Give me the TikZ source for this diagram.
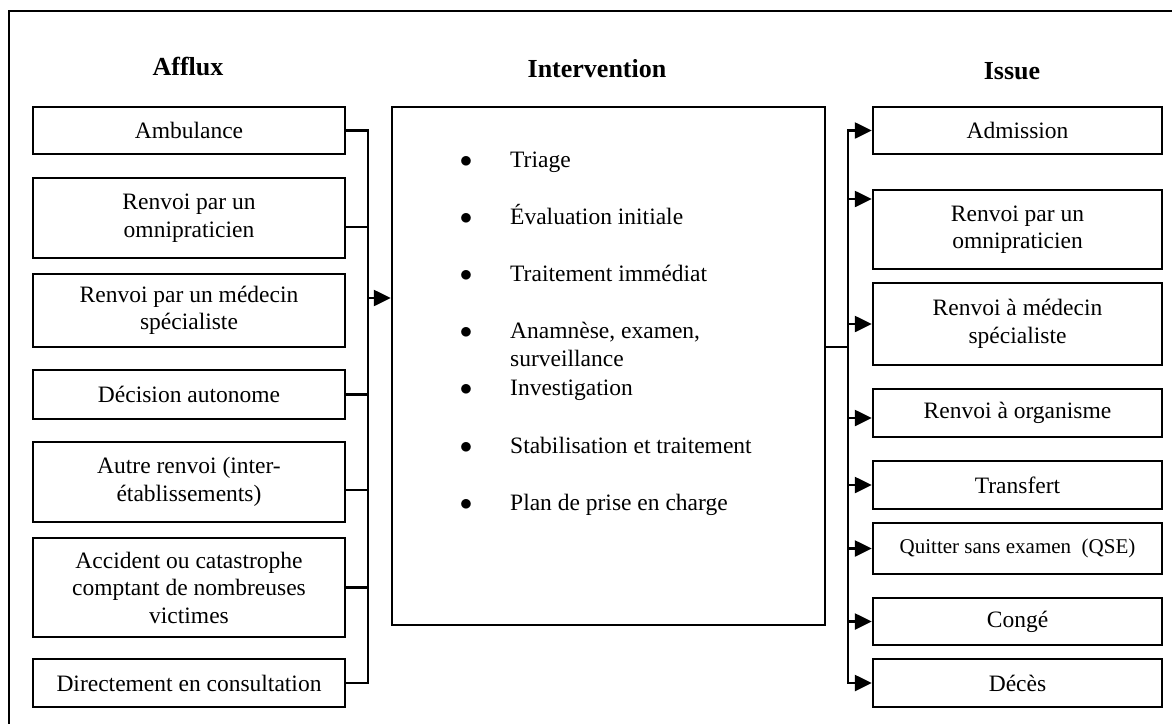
\documentclass[tikz,border=0pt]{standalone}
\usepackage{fontspec}
\setmainfont{Liberation Serif}
\usepackage{tikz}
\usetikzlibrary{arrows.meta,positioning,calc}
\tikzstyle{ib}=[rectangle,draw=black,line width=2.4pt,minimum width=312,align=center,inner sep=2pt,font=\fontsize{23.5}{27.5}\selectfont]
\tikzstyle{ob}=[rectangle,draw=black,line width=2.4pt,minimum width=289,align=center,inner sep=2pt,font=\fontsize{23.5}{27.5}\selectfont]
\tikzstyle{hd}=[anchor=base,inner sep=0pt,font=\fontsize{26}{30}\selectfont\bfseries]
\tikzstyle{bul}=[anchor=base,inner sep=0pt,font=\fontsize{23.5}{27.5}\selectfont]
\tikzstyle{itm}=[anchor=base west,inner sep=0pt,font=\fontsize{23.5}{27.5}\selectfont]
\tikzstyle{arr}=[-{Triangle[length=17pt,width=16pt]}]

\begin{document}
\begin{tikzpicture}[x=1pt,y=-1pt,line width=2.4pt]
    \useasboundingbox (0,0) rectangle (1172,723);
    \clip (0,0) rectangle (1172,723);
    \draw[line width=2.8pt] (9,11) rectangle (1190,740);

    \node (tin) [hd] at (188,75) {Afflux};
    \node (tmid) [hd] at (597,77) {Intervention};
    \node (tout) [hd] at (1012,79) {Issue};

    % afflux
    \node (amb) [ib,minimum height=47] at (189,130.5) {Ambulance};
    \node (omni) [ib,minimum height=80] at (189,218) {Renvoi par un\\omnipraticien};
    \node (spec) [ib,minimum height=73] at (189,310.5) {Renvoi par un médecin\\spécialiste};
    \node (auto) [ib,minimum height=49] at (189,394.5) {Décision autonome};
    \node (inter) [ib,minimum height=80] at (189,482) {Autre renvoi (inter-\\établissements)};
    \node (acc) [ib,minimum height=99] at (189,587.5) {Accident ou catastrophe\\comptant de nombreuses\\victimes};
    \node (dir) [ib,minimum height=48] at (189,683) {Directement en consultation};

    % intervention
    \node (cbox) [draw,line width=2.4pt,minimum width=433,minimum height=518] at (608.5,366) {};
    \node (b1) [bul] at (466,167) {$\bullet$};
    \node (i1) [itm] at (509,167) {Triage};
    \node (b2) [bul] at (466,224) {$\bullet$};
    \node (i2) [itm] at (509,224) {Évaluation initiale};
    \node (b3) [bul] at (466,281) {$\bullet$};
    \node (i3) [itm] at (509,281) {Traitement immédiat};
    \node (b4) [bul] at (466,338) {$\bullet$};
    \node (i4) [itm] at (509,338) {Anamnèse, examen,};
    \node (i4b) [itm] at (509,366) {surveillance};
    \node (b5) [bul] at (466,395) {$\bullet$};
    \node (i5) [itm] at (509,395) {Investigation};
    \node (b6) [bul] at (466,453) {$\bullet$};
    \node (i6) [itm] at (509,453) {Stabilisation et traitement};
    \node (b7) [bul] at (466,510) {$\bullet$};
    \node (i7) [itm] at (509,510) {Plan de prise en charge};

    % issue
    \node (adm) [ob,minimum height=47] at (1017.5,130.5) {Admission};
    \node (omni2) [ob,minimum height=79] at (1017.5,229.5) {Renvoi par un\\omnipraticien};
    \node (spec2) [ob,minimum height=82] at (1017.5,324) {Renvoi à médecin\\spécialiste};
    \node (org) [ob,minimum height=48] at (1017.5,413) {Renvoi à organisme};
    \node (trans) [ob,minimum height=48] at (1017.5,485) {Transfert};
    \node (qse) [ob,minimum height=51,font=\fontsize{21}{25}\selectfont] at (1017.5,548.5) {Quitter sans examen\ \ (QSE)};
    \node (conge) [ob,minimum height=47] at (1017.5,621.5) {Congé};
    \node (deces) [ob,minimum height=48] at (1017.5,683) {Décès};

    % connectors in
    \coordinate (busL) at (368,131);
    \coordinate (inL) at (368,298);
    \draw (amb.east) -- (amb.east -| busL) -- (dir.east -| busL) -- (dir.east);
    \draw ([yshift=-9pt]omni.east) -- ([yshift=-9pt]omni.east -| busL);
    \draw (auto.east) -- (auto.east -| busL);
    \draw ([yshift=-8pt]inter.east) -- ([yshift=-8pt]inter.east -| busL);
    \draw (acc.east) -- (acc.east -| busL);
    \draw[arr] (inL) -- (inL -| cbox.west);

    % connectors out
    \coordinate (busR) at (848,347);
    \draw (busR -| cbox.east) -- (busR);
    \draw[arr] (deces.west -| busR) -- (adm.west -| busR) -- (adm.west);
    \draw[arr] ([yshift=30.5pt]omni2.west -| busR) -- ([yshift=30.5pt]omni2.west);
    \draw[arr] (spec2.west -| busR) -- (spec2.west);
    \draw[arr] ([yshift=-5pt]org.west -| busR) -- ([yshift=-5pt]org.west);
    \draw[arr] (trans.west -| busR) -- (trans.west);
    \draw[arr] (qse.west -| busR) -- (qse.west);
    \draw[arr] (conge.west -| busR) -- (conge.west);
    \draw[arr,line cap=rect] (deces.west -| busR) -- (deces.west);
\end{tikzpicture}
\end{document}
